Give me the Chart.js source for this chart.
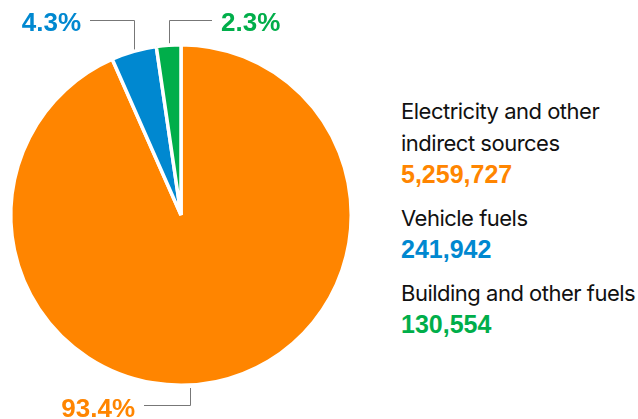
<!DOCTYPE html>
<html>
<head>
<meta charset="utf-8">
<script src="https://cdn.jsdelivr.net/npm/chart.js@4.4.1/dist/chart.umd.min.js"></script>
<style>
    body { margin: 0; background: #fff; font-family: Inter, "Liberation Sans", sans-serif; }
    #wrap { position: relative; width: 638px; height: 419px; overflow: hidden; }
    #pie-box { position: absolute; left: 0; top: 0; width: 362px; height: 419px; }
    #legend { position: absolute; left: 401px; top: 95px; width: 237px; }
    .leg-item { margin-bottom: 13px; }
    .leg-name { font-size: 22px; line-height: 32px; color: #111; letter-spacing: -0.5px; white-space: nowrap; }
    .leg-value { font-family: "Liberation Sans", Arial, sans-serif; font-size: 25px; font-weight: 700; line-height: 30px; }
</style>
</head>
<body>
<div id="wrap">
    <div id="pie-box"><canvas id="pie-chart"></canvas></div>
    <div id="legend"></div>
</div>
<script>
// 데이터
const categories = ["Electricity and other indirect sources", "Vehicle fuels", "Building and other fuels"];
const nameLines = [["Electricity and other", "indirect sources"], ["Vehicle fuels"], ["Building and other fuels"]];
const values = [5259727, 241942, 130554];
const percentLabels = ["93.4%", "4.3%", "2.3%"];
const colors = ["#ff8500", "#0088d0", "#00ae4a"];

window.addEventListener("load", function () {
    bind();
});

function bind() {

    // 범례 (오른쪽)
    let html = "";
    for (let i = 0; i < categories.length; i++) {
        html += '<div class="leg-item">';
        html += '<div class="leg-name">' + nameLines[i].join("<br>") + '</div>';
        html += '<div class="leg-value" style="color:' + colors[i] + '">' + values[i].toLocaleString("en-US") + '</div>';
        html += '</div>';
    }
    document.querySelector("#legend").innerHTML = html;

    // 라벨 + 지시선 배치: 각도(위에서 시계방향, 도), 라벨 높이, 방향
    const labelLayout = [
        { angle: 177, lineY: 405, dir: -1, end: 144 },
        { angle: null, lineY: 20, dir: -1, end: 90 },
        { angle: null, lineY: 20, dir: 1, end: 212 }
    ];

    const leaderPlugin = {
        id: "leaders",
        afterDraw(chart) {
            const ctx = chart.ctx;
            const arcs = chart.getDatasetMeta(0).data;
            ctx.save();
            for (let i = 0; i < arcs.length; i++) {
                const a = arcs[i];
                const lay = labelLayout[i];
                let ang = lay.angle !== null
                    ? (lay.angle - 90) * Math.PI / 180
                    : (a.startAngle + a.endAngle) / 2;
                const r = a.outerRadius;
                const px = Math.round(a.x + r * Math.cos(ang)) + 0.5;
                const py = a.y + r * Math.sin(ang);
                const startY = lay.lineY < a.y ? py - 2 : py + 3;
                ctx.strokeStyle = "#777";
                ctx.lineWidth = 1;
                ctx.beginPath();
                ctx.moveTo(px, startY);
                ctx.lineTo(px, lay.lineY + 0.5);
                ctx.lineTo(lay.end, lay.lineY + 0.5);
                ctx.stroke();

                ctx.fillStyle = colors[i];
                ctx.font = "bold 26px 'Liberation Sans', Arial, sans-serif";
                ctx.textBaseline = "alphabetic";
                let tx, baseY;
                if (lay.dir < 0) {
                    ctx.textAlign = "right";
                    tx = lay.end - 9;
                } else {
                    ctx.textAlign = "left";
                    tx = lay.end + 9;
                }
                baseY = lay.lineY < a.y ? lay.lineY + 11 : lay.lineY + 12;
                ctx.fillText(percentLabels[i], tx, baseY);
            }
            ctx.restore();
        }
    };

    new Chart(document.getElementById("pie-chart"), {
        type: "pie",
        data: {
            labels: categories,
            datasets: [{
                data: values,
                backgroundColor: colors,
                borderColor: "#ffffff",
                borderWidth: 3.5
            }]
        },
        options: {
            responsive: true,
            maintainAspectRatio: false,
            animation: false,
            layout: { padding: { top: 43, bottom: 32, left: 0, right: 0 } },
            plugins: {
                legend: { display: false },
                tooltip: { enabled: false }
            }
        },
        plugins: [leaderPlugin]
    });
}
</script>
</body>
</html>
